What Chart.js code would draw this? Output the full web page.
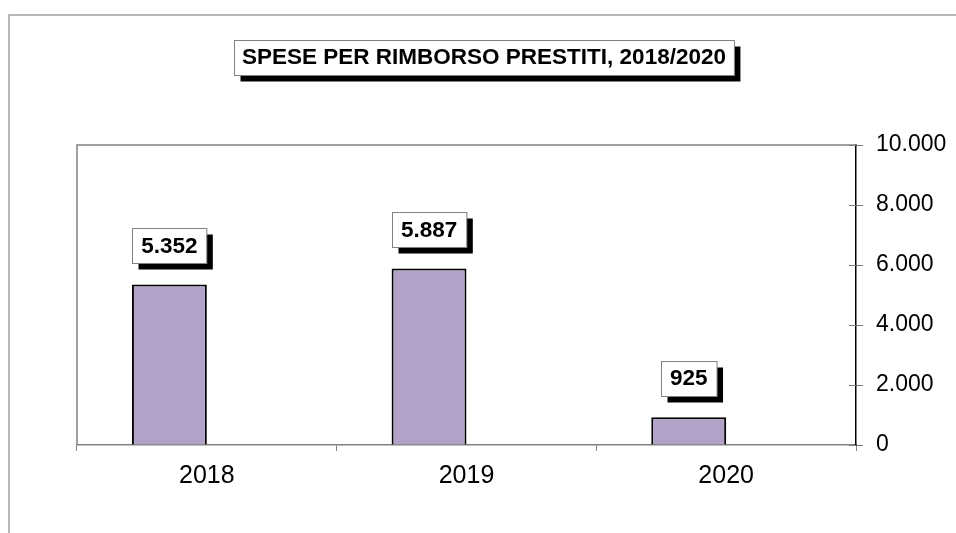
<!DOCTYPE html>
<html>
<head>
<meta charset="utf-8">
<script src="https://cdn.jsdelivr.net/npm/chart.js@4/dist/chart.umd.min.js"></script>
<style>
    html, body { margin: 0; padding: 0; background: #fff; }
    #wrap { width: 956px; height: 533px; position: relative; }
</style>
</head>
<body>
<div id="wrap"><canvas id="spese"></canvas></div>
<script>
// data
const anni = ['2018', '2019', '2020'];
const spese = [5352, 5887, 925];
const vuota = [null, null, null]; // excel had an empty second series, keeps the bars left of centre
const titolo = 'SPESE PER RIMBORSO PRESTITI, 2018/2020';
const yTicks = [0, 2000, 4000, 6000, 8000, 10000];

const FONT = '"Liberation Sans", Arial, sans-serif';

function formatta(v) {
    return String(v).replace(/\B(?=(\d{3})+(?!\d))/g, '.');
}

// box with black shadow, like the excel ones
function boxOmbra(ctx, testo, cx, cy, padX, h) {
    ctx.save();
    ctx.font = 'bold 22.5px ' + FONT;
    const w = ctx.measureText(testo).width + padX * 2;
    const x = Math.round(cx - w / 2) + 0.5;
    const y = Math.round(cy - h / 2) + 0.5;
    ctx.fillStyle = '#000';
    ctx.fillRect(x + 6, y + 6, w, h);
    ctx.fillStyle = '#fff';
    ctx.fillRect(x, y, w, h);
    ctx.strokeStyle = '#808080';
    ctx.lineWidth = 1;
    ctx.strokeRect(x, y, w, h);
    ctx.fillStyle = '#000';
    ctx.textAlign = 'center';
    ctx.textBaseline = 'middle';
    ctx.fillText(testo, cx, cy + 1);
    ctx.restore();
}

const decorazioni = {
    id: 'decorazioni',
    beforeDraw(chart) {
        const ctx = chart.ctx;
        ctx.save();
        ctx.fillStyle = '#fff';
        ctx.fillRect(0, 0, chart.width, chart.height);
        // outer frame, only top and left visible
        ctx.strokeStyle = '#a0a0a0';
        ctx.lineWidth = 1.5;
        ctx.beginPath();
        ctx.moveTo(9, chart.height);
        ctx.lineTo(9, 15);
        ctx.lineTo(chart.width, 15);
        ctx.stroke();
        ctx.restore();
    },
    afterDraw(chart) {
        const ctx = chart.ctx;
        const area = chart.chartArea;
        const y = chart.scales.y;
        ctx.save();
        // plot area frame (left + top)
        ctx.strokeStyle = '#808080';
        ctx.lineWidth = 1.5;
        ctx.beginPath();
        ctx.moveTo(area.left, area.bottom);
        ctx.lineTo(area.left, area.top);
        ctx.lineTo(area.right, area.top);
        ctx.stroke();
        // inner half of y ticks (they cross the axis)
        ctx.strokeStyle = '#808080';
        ctx.lineWidth = 1;
        y.ticks.forEach(t => {
            const py = Math.round(y.getPixelForValue(t.value)) + 0.5;
            ctx.beginPath();
            ctx.moveTo(area.right - 7, py);
            ctx.lineTo(area.right, py);
            ctx.stroke();
        });
        ctx.restore();

        // title
        boxOmbra(ctx, titolo, 484, 57, 8, 35);

        // value labels
        const meta = chart.getDatasetMeta(0);
        meta.data.forEach((bar, i) => {
            boxOmbra(ctx, formatta(spese[i]), bar.x, bar.y - 22 - 17, 9, 35);
        });
    }
};

const ctx = document.getElementById('spese').getContext('2d');

new Chart(ctx, {
    type: 'bar',
    data: {
        labels: anni,
        datasets: [
            {
                label: 'Spese',
                data: spese,
                backgroundColor: '#b3a2c7',
                borderColor: '#000',
                borderWidth: 2,
                borderSkipped: 'bottom',
            },
            {
                label: '',
                data: vuota,
                backgroundColor: '#b3a2c7',
            },
        ],
    },
    options: {
        responsive: true,
        maintainAspectRatio: false,
        animation: false,
        devicePixelRatio: 1,
        categoryPercentage: 0.577,
        barPercentage: 1,
        layout: {
            padding: { left: 77, top: 145, right: 0, bottom: 0 }
        },
        plugins: {
            legend: { display: false },
            title: { display: false },
            tooltip: { enabled: false },
        },
        scales: {
            x: {
                grid: {
                    offset: true,
                    drawOnChartArea: false,
                    tickLength: 6,
                    color: '#808080',
                    lineWidth: 1,
                },
                border: { color: '#808080', width: 1.5 },
                ticks: {
                    color: '#000',
                    font: { family: FONT, size: 25 },
                    padding: 10,
                },
                afterFit: (scale) => { scale.height = 88; },
            },
            y: {
                position: 'right',
                min: 0,
                max: 10000,
                afterBuildTicks: (scale) => {
                    scale.ticks = yTicks.map(v => ({ value: v }));
                },
                grid: {
                    drawOnChartArea: false,
                    tickLength: 7,
                    color: '#808080',
                },
                border: { color: '#000', width: 1.5 },
                ticks: {
                    color: '#000',
                    font: { family: FONT, size: 23 },
                    padding: 13,
                    callback: (v) => formatta(v),
                },
                afterFit: (scale) => { scale.width = 100; },
            },
        },
    },
    plugins: [decorazioni],
});
</script>
</body>
</html>
